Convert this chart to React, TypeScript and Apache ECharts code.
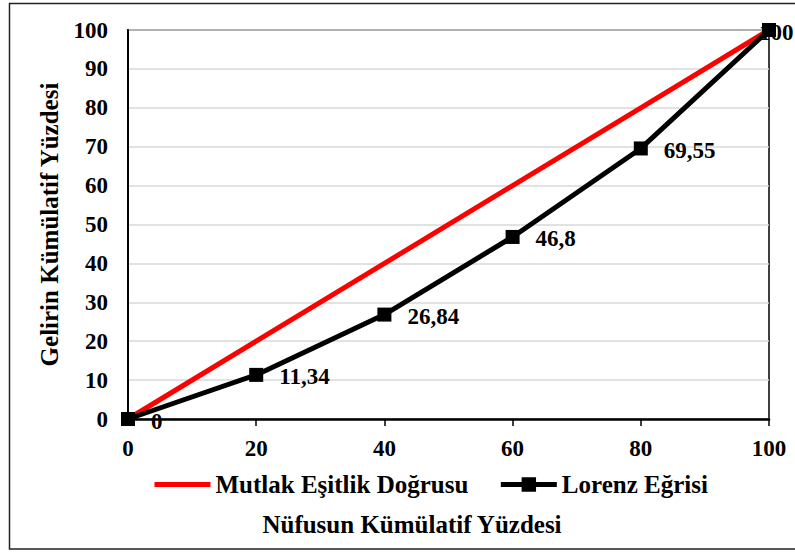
import React, { useEffect, useRef } from "react";
import * as echarts from "echarts";

const xValues = [0, 20, 40, 60, 80, 100];
const equalityValues = [0, 20, 40, 60, 80, 100];
const lorenzValues = [0, 11.34, 26.84, 46.8, 69.55, 100];
const seriesNames = ["Mutlak Eşitlik Doğrusu", "Lorenz Eğrisi"];
const xTitle = "Nüfusun Kümülatif Yüzdesi";
const yTitle = "Gelirin Kümülatif Yüzdesi";

const FONT = "'Liberation Serif', 'Times New Roman', serif";

export default function App() {
  const ref = useRef<HTMLDivElement>(null);
  useEffect(() => {
    document.body.style.margin = "0";
    if (!ref.current) return;
    const chart = echarts.init(ref.current, null, { renderer: "svg" });
    const lastIdx = lorenzValues.length - 1;
    chart.setOption({
      animation: false,
      backgroundColor: "#fff",
      textStyle: { fontFamily: FONT },
      grid: {
        left: 128,
        right: 26,
        top: 30,
        bottom: 133,
        show: true,
        borderColor: "#000",
        borderWidth: 1.5,
        containLabel: false,
      },
      legend: {
        left: 152,
        top: 472,
        padding: 0,
        itemWidth: 56,
        itemHeight: 18,
        itemGap: 30,
        textStyle: { fontFamily: FONT, fontSize: 25, fontWeight: "bold", color: "#000" },
        data: [
          { name: seriesNames[0], itemStyle: { opacity: 0 }, lineStyle: { width: 5, color: "#ff0000" } },
          { name: seriesNames[1], lineStyle: { width: 5, color: "#000" } },
        ],
      },
      xAxis: {
        type: "value",
        min: 0,
        max: 100,
        interval: 20,
        axisLine: { show: true, lineStyle: { color: "#000", width: 2.5 } },
        axisTick: { show: true, length: 7, lineStyle: { color: "#000", width: 1.5 } },
        splitLine: { show: false },
        axisLabel: { margin: 18, fontFamily: FONT, fontSize: 23, fontWeight: "bold", color: "#000" },
      },
      yAxis: {
        type: "value",
        min: 0,
        max: 100,
        interval: 10,
        name: yTitle,
        nameLocation: "middle",
        nameGap: 66,
        nameRotate: 90,
        nameTextStyle: { fontFamily: FONT, fontSize: 25, fontWeight: "bold", color: "#000" },
        axisLine: { show: true, lineStyle: { color: "#000", width: 2 } },
        axisTick: { show: false },
        splitLine: { show: true, lineStyle: { color: "#d9d9d9", width: 1.5 } },
        axisLabel: { margin: 20, fontFamily: FONT, fontSize: 23, fontWeight: "bold", color: "#000" },
      },
      graphic: [
        {
          type: "rect",
          shape: { x: 9.5, y: 3.5, width: 800, height: 545.5 },
          style: { fill: "none", stroke: "#222", lineWidth: 1.5 },
          silent: true,
        },
        {
          type: "text",
          x: 412,
          y: 524,
          style: {
            text: xTitle,
            fontFamily: FONT,
            fontSize: 25,
            fontWeight: "bold",
            fill: "#000",
            align: "center",
            verticalAlign: "middle",
          },
        },
      ],
      series: [
        {
          name: seriesNames[0],
          type: "line",
          data: xValues.map((x, i) => [x, equalityValues[i]]),
          symbol: "none",
          lineStyle: { color: "#ff0000", width: 5 },
          itemStyle: { color: "#ff0000" },
          z: 2,
        },
        {
          name: seriesNames[1],
          type: "line",
          data: xValues.map((x, i) => {
            const item: any = { value: [x, lorenzValues[i]] };
            if (i === lastIdx) {
              item.label = { position: "inside", align: "left", offset: [-10, 2] };
            }
            return item;
          }),
          symbol: "rect",
          symbolSize: 14,
          lineStyle: { color: "#000", width: 5 },
          itemStyle: { color: "#000" },
          z: 3,
          label: {
            show: true,
            position: "right",
            distance: 16,
            offset: [0, 2],
            fontFamily: FONT,
            fontSize: 23,
            fontWeight: "bold",
            color: "#000",
            formatter: (p: any) => String(p.value[1]).replace(".", ","),
          },
        },
      ],
    });
    return () => chart.dispose();
  }, []);
  return <div ref={ref} style={{ width: 795, height: 552 }} />;
}
